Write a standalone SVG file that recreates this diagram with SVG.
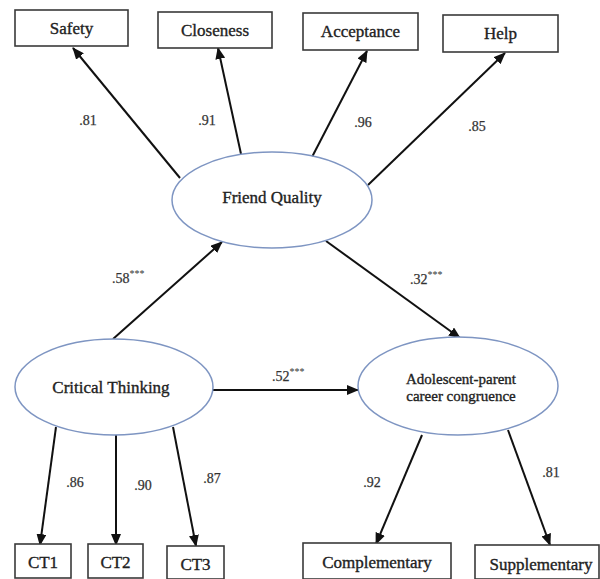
<svg xmlns="http://www.w3.org/2000/svg" width="600" height="579" viewBox="0 0 600 579">
<style>
.box{fill:#fff;stroke:#3a3a3a;stroke-width:1.6}
.ell{fill:#fff;stroke:#7e95c2;stroke-width:1.5}
text{font-family:"Liberation Serif","Times New Roman",serif;fill:#222;stroke:#222;stroke-width:0.35}
.lbl{font-size:17px;text-anchor:middle}
.sm{font-size:15px;text-anchor:middle}
.num{font-size:14px;text-anchor:middle;fill:#333;stroke:#333;stroke-width:0.25}
.coef{font-size:14px;fill:#333;stroke:#333;stroke-width:0.25}
.star{font-size:10px;stroke:none}
.arr{stroke:#111;stroke-width:2;fill:none;marker-end:url(#ah)}
</style>
<defs>
<marker id="ah" markerUnits="userSpaceOnUse" markerWidth="12" markerHeight="10" viewBox="0 0 12 10" refX="11" refY="5" orient="auto">
<path d="M0,0 L12,5 L0,10 z" fill="#111"/>
</marker>
</defs>
<rect width="600" height="579" fill="#fff"/>
<g id="connectors">
<line class="arr" x1="180" y1="178" x2="73" y2="48"/>
<line class="arr" x1="241" y1="154" x2="218" y2="48"/>
<line class="arr" x1="312" y1="157" x2="367" y2="51"/>
<line class="arr" x1="368" y1="185" x2="505" y2="53"/>
<line class="arr" x1="113" y1="339" x2="222" y2="242"/>
<line class="arr" x1="326" y1="241" x2="460" y2="338"/>
<line class="arr" x1="213" y1="390" x2="358" y2="390"/>
<line class="arr" x1="56" y1="427" x2="40" y2="545"/>
<line class="arr" x1="116" y1="435" x2="116" y2="545"/>
<line class="arr" x1="173" y1="427" x2="196" y2="546"/>
<line class="arr" x1="422" y1="435" x2="376" y2="544"/>
<line class="arr" x1="508" y1="430" x2="550" y2="545"/>
<text class="num" x="88" y="125">.81</text>
<text class="num" x="207" y="125">.91</text>
<text class="num" x="363" y="127">.96</text>
<text class="num" x="477" y="131">.85</text>
<text class="coef" x="112" y="283">.58<tspan class="star" dy="-6">***</tspan></text>
<text class="coef" x="410" y="284">.32<tspan class="star" dy="-6">***</tspan></text>
<text class="coef" x="272" y="381">.52<tspan class="star" dy="-6">***</tspan></text>
<text class="num" x="75" y="487">.86</text>
<text class="num" x="143" y="490">.90</text>
<text class="num" x="212" y="483">.87</text>
<text class="num" x="372" y="487">.92</text>
<text class="num" x="551" y="477">.81</text>
</g>
<g id="safety"><rect class="box" x="15" y="10" width="113" height="36"/><text class="lbl" x="71.5" y="34">Safety</text></g>
<g id="closeness"><rect class="box" x="158" y="12" width="114" height="36"/><text class="lbl" x="215" y="36">Closeness</text></g>
<g id="acceptance"><rect class="box" x="303" y="13" width="115" height="37"/><text class="lbl" x="360.5" y="37">Acceptance</text></g>
<g id="help"><rect class="box" x="443" y="15" width="115" height="37"/><text class="lbl" x="500.5" y="39">Help</text></g>
<g id="friend-quality"><ellipse class="ell" cx="272" cy="200" rx="100" ry="48"/><text class="lbl" x="272" y="203">Friend Quality</text></g>
<g id="critical-thinking"><ellipse class="ell" cx="114" cy="387" rx="99" ry="48"/><text class="lbl" x="111" y="393">Critical Thinking</text></g>
<g id="congruence"><ellipse class="ell" cx="458" cy="386" rx="100" ry="49"/><text class="sm" x="461" y="384">Adolescent-parent</text><text class="sm" x="461" y="401">career congruence</text></g>
<g id="ct1"><rect class="box" x="15" y="544" width="56" height="34"/><text class="lbl" x="43" y="568">CT1</text></g>
<g id="ct2"><rect class="box" x="88" y="544" width="55" height="34"/><text class="lbl" x="115.5" y="568">CT2</text></g>
<g id="ct3"><rect class="box" x="167" y="546" width="57" height="33"/><text class="lbl" x="195.5" y="570">CT3</text></g>
<g id="complementary"><rect class="box" x="303" y="543" width="148" height="36"/><text class="lbl" x="377" y="568">Complementary</text></g>
<g id="supplementary"><rect class="box" x="475" y="545" width="124" height="34"/><text class="lbl" x="541" y="570">Supplementary</text></g>
</svg>
